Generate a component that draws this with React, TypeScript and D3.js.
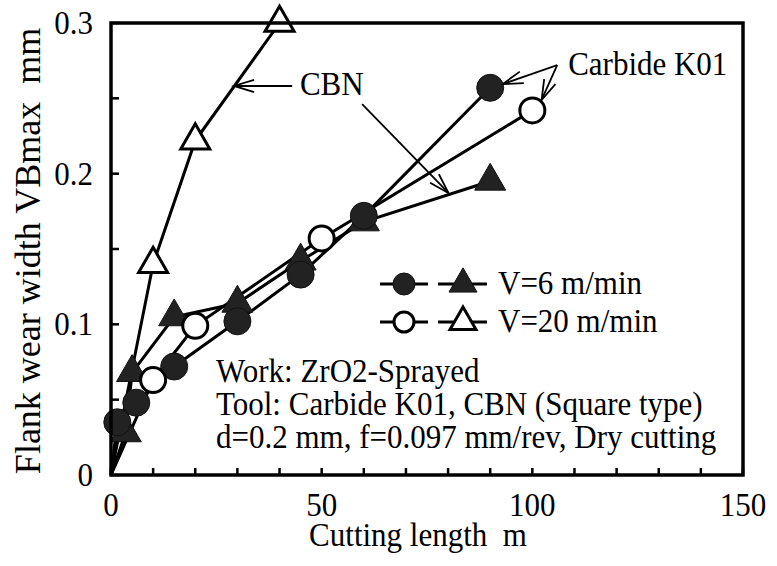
import React from "react";
import * as d3 from "d3";

// ---- data ----
const carbide6X = [0, 1.5, 6, 15, 30, 45, 60, 90];
const carbide6Y = [0, 0.035, 0.048, 0.072, 0.102, 0.133, 0.172, 0.257];
const cbn6X = [0, 3.5, 5, 15, 30, 45, 60, 90];
const cbn6Y = [0, 0.028, 0.068, 0.105, 0.114, 0.142, 0.168, 0.195];
const carbide20X = [0, 10, 20, 50, 100];
const carbide20Y = [0, 0.063, 0.099, 0.157, 0.242];
const cbn20X = [0, 10, 20, 40];
const cbn20Y = [0, 0.14, 0.222, 0.3];

const xTickLabels = [0, 50, 100, 150];
const yTickLabels = [0, 0.1, 0.2, 0.3];
const xMinorTicks = d3.range(0, 151, 10);
const yMinorTicks = [0, 0.05, 0.1, 0.15, 0.2, 0.25, 0.3];

const legendLabels = ["V=6 m/min", "V=20 m/min"];
const infoLines = [
  "Work: ZrO2-Sprayed",
  "Tool: Carbide K01, CBN (Square type)",
  "d=0.2 mm, f=0.097 mm/rev, Dry cutting",
];

const FONT = "Liberation Serif, DejaVu Serif, serif";

const W = 777, H = 566;
const L = 111, R = 743, T = 23, B = 475;

const x = d3.scaleLinear().domain([0, 150]).range([L, R]);
const y = d3.scaleLinear().domain([0, 0.3]).range([B, T]);

type P = [number, number];
const zip = (xs: number[], ys: number[]): P[] => xs.map((v, i) => [v, ys[i]]);

const line = d3.line<P>().x((d) => x(d[0])).y((d) => y(d[1]));

const triPath = (s: number) => {
  const h = (s * Math.sqrt(3)) / 2;
  return `M0,${-2 * h / 3}L${s / 2},${h / 3}L${-s / 2},${h / 3}Z`;
};

function Arrow({ from, to }: { from: P; to: P }) {
  const x1 = x(from[0]), y1 = y(from[1]), x2 = x(to[0]), y2 = y(to[1]);
  const a = Math.atan2(y1 - y2, x1 - x2);
  const len = 21, sp = (17 * Math.PI) / 180;
  const b1: P = [x2 + len * Math.cos(a + sp), y2 + len * Math.sin(a + sp)];
  const b2: P = [x2 + len * Math.cos(a - sp), y2 + len * Math.sin(a - sp)];
  return (
    <g stroke="#000" strokeWidth={1.8} fill="none">
      <line x1={x1} y1={y1} x2={x2} y2={y2} />
      <path d={`M${b1[0]},${b1[1]}L${x2},${y2}L${b2[0]},${b2[1]}`} />
    </g>
  );
}

function Txt({ px, py, children, anchor = "start", size = 31, sy = 1.08 }: any) {
  return (
    <text
      transform={`translate(${px},${py}) scale(1,${sy})`}
      style={{ fontFamily: FONT, fontSize: size, whiteSpace: "pre" }}
      textAnchor={anchor}
      fill="#000"
    >
      {children}
    </text>
  );
}

export default function App() {
  const series = [
    { pts: zip(cbn6X, cbn6Y), shape: "tri", filled: true },
    { pts: zip(carbide6X, carbide6Y), shape: "circ", filled: true },
    { pts: zip(cbn20X, cbn20Y), shape: "tri", filled: false },
    { pts: zip(carbide20X, carbide20Y), shape: "circ", filled: false },
  ];

  const marker = (shape: string, filled: boolean, cx: number, cy: number, key: any, small = false) => {
    if (shape === "circ") {
      return filled ? (
        <circle key={key} cx={cx} cy={cy} r={small ? 11 : 13.5} fill="#222" stroke="#111" strokeWidth={1} />
      ) : (
        <circle key={key} cx={cx} cy={cy} r={small ? 10 : 12.5} fill="#fff" stroke="#000" strokeWidth={3} />
      );
    }
    return filled ? (
      <path key={key} d={triPath(small ? 28 : 31)} transform={`translate(${cx},${cy})`} fill="#222" stroke="#111" strokeWidth={1} />
    ) : (
      <path key={key} d={triPath(small ? 26 : 29)} transform={`translate(${cx},${cy})`} fill="#fff" stroke="#000" strokeWidth={3} strokeLinejoin="miter" />
    );
  };

  const legendRows = [
    { yv: 284, filled: true, label: legendLabels[0] },
    { yv: 322, filled: false, label: legendLabels[1] },
  ];

  return (
    <svg width={W} height={H} style={{ position: "absolute", left: 0, top: 0, background: "#fff" }}>
      <rect x={0} y={0} width={W} height={H} fill="#fff" />
      {/* ticks */}
      <g stroke="#000" strokeWidth={2.5}>
        {xMinorTicks.map((t) => (
          <line key={"xt" + t} x1={x(t)} x2={x(t)} y1={B} y2={B - 7} />
        ))}
        {yMinorTicks.map((t) => (
          <line key={"yt" + t} x1={L} x2={L + 8} y1={y(t)} y2={y(t)} />
        ))}
      </g>
      {/* lines */}
      <g fill="none" stroke="#000" strokeWidth={3}>
        {series.map((s, i) => (
          <path key={i} d={line(s.pts) || ""} />
        ))}
      </g>
      {/* markers */}
      {series.map((s, i) => (
        <g key={"m" + i}>
          {s.pts.slice(1).map((p, j) => marker(s.shape, s.filled, x(p[0]), y(p[1]), j))}
        </g>
      ))}
      {/* frame */}
      <rect x={L} y={T} width={R - L} height={B - T} fill="none" stroke="#000" strokeWidth={3.5} />
      {/* tick labels */}
      {xTickLabels.map((t) => (
        <Txt key={"xl" + t} px={x(t)} py={516} anchor="middle">{t}</Txt>
      ))}
      {yTickLabels.map((t) => (
        <Txt key={"yl" + t} px={93} py={y(t) + 11} anchor="end">{t === 0 ? "0" : t.toFixed(1)}</Txt>
      ))}
      {/* axis titles */}
      <Txt px={418} py={546} anchor="middle">{"Cutting length  m"}</Txt>
      <text
        transform={`translate(40,${(T + B) / 2 + 2}) rotate(-90)`}
        style={{ fontFamily: FONT, fontSize: 36, whiteSpace: "pre" }}
        textAnchor="middle"
      >
        {"Flank wear width VBmax  mm"}
      </text>
      {/* legend */}
      {legendRows.map((r, i) => (
        <g key={"lg" + i}>
          <line x1={380} x2={428} y1={r.yv} y2={r.yv} stroke="#000" strokeWidth={3} />
          <line x1={438} x2={487} y1={r.yv} y2={r.yv} stroke="#000" strokeWidth={3} />
          {marker("circ", r.filled, 404, r.yv, "c", true)}
          {marker("tri", r.filled, 463, r.yv, "t", true)}
          <Txt px={498} py={r.yv + 10}>{r.label}</Txt>
        </g>
      ))}
      {/* info text */}
      {infoLines.map((t, i) => (
        <Txt key={"in" + i} px={216} py={382 + i * 33}>{t}</Txt>
      ))}
      {/* annotations */}
      <Arrow from={[43.0, 0.2582]} to={[29.2, 0.2582]} />
      <Txt px={x(52.4)} py={y(0.2522)} anchor="middle">CBN</Txt>
      <Arrow from={[59.6, 0.2462]} to={[80.1, 0.1872]} />
      <Arrow from={[105.9, 0.2721]} to={[93.0, 0.2595]} />
      <Arrow from={[105.9, 0.2721]} to={[102.2, 0.2489]} />
      <Txt px={x(108.5)} py={y(0.2655)}>Carbide K01</Txt>
    </svg>
  );
}
